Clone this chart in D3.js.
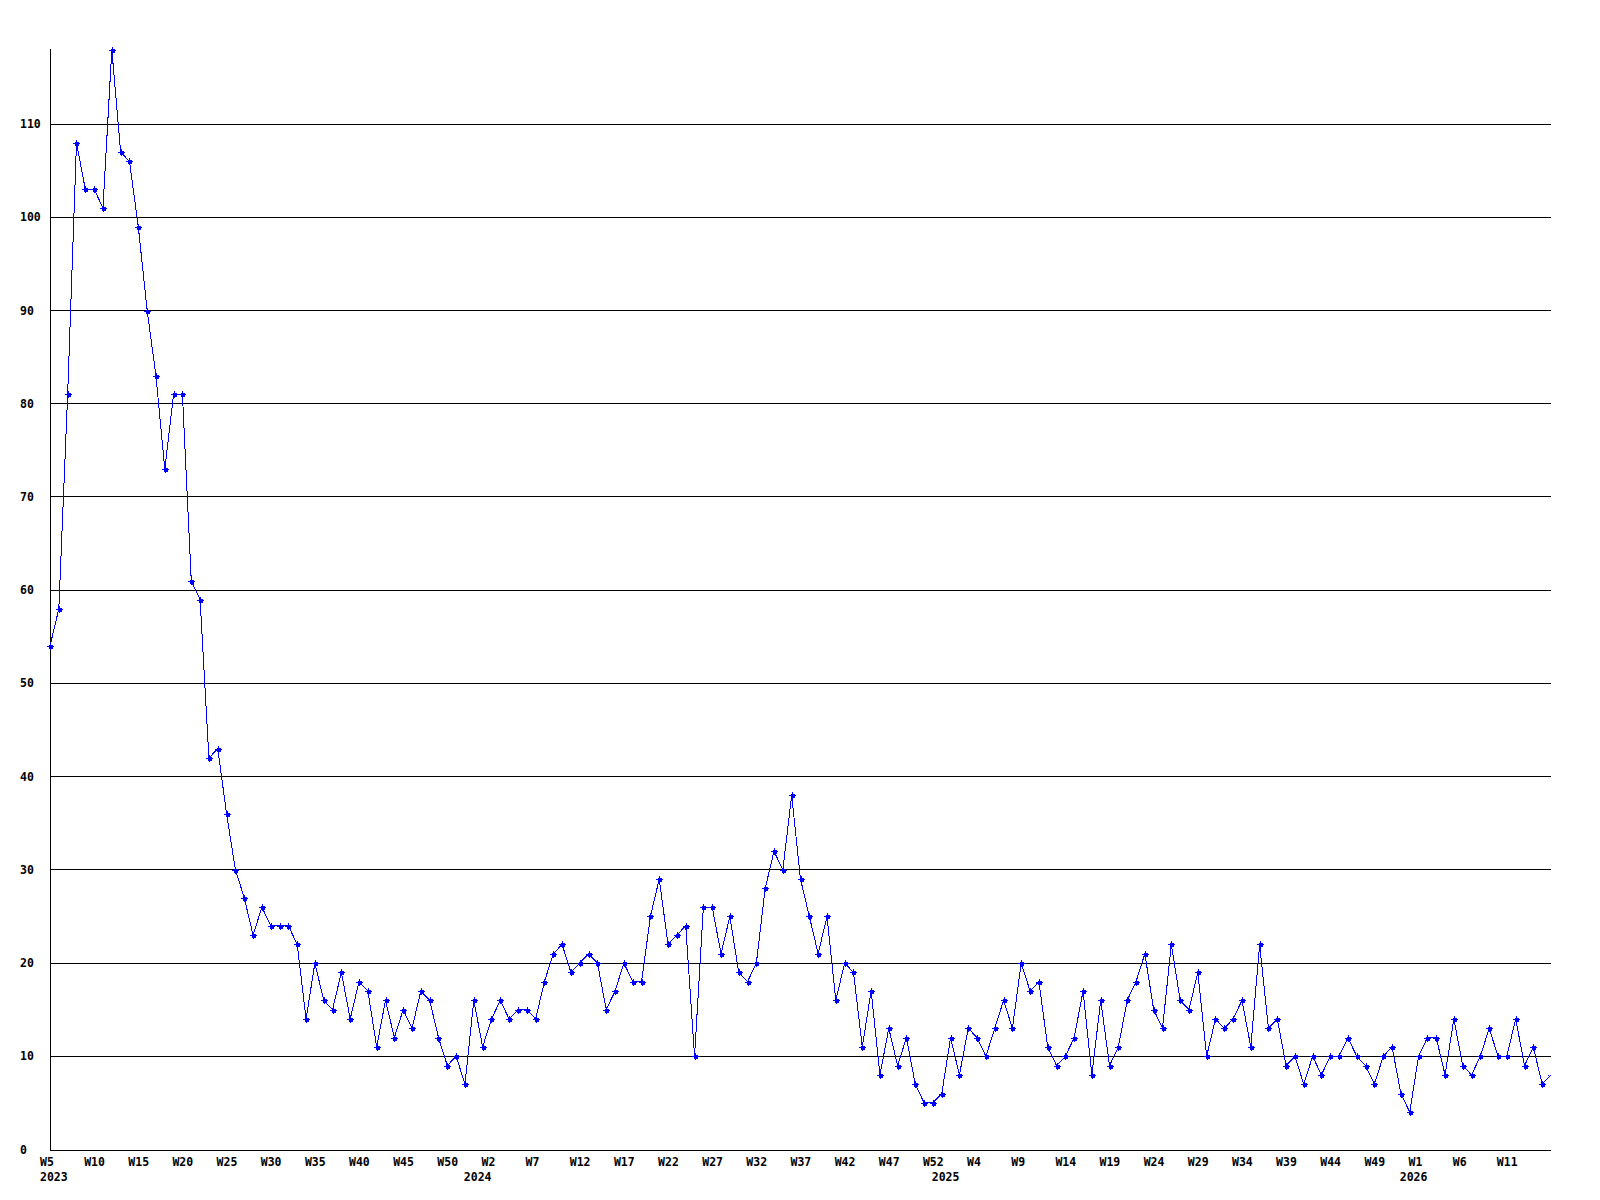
<!DOCTYPE html>
<html>
<head>
<meta charset="utf-8">
<script src="https://cdn.jsdelivr.net/npm/d3@7"></script>
<style>
  body { margin: 0; background: #fff; }
  text { font-family: "DejaVu Sans Mono", monospace; font-weight: bold; font-size: 11.5px; fill: #000; }
</style>
</head>
<body>
<svg id="chart" width="1600" height="1200"></svg>
<script>
// weekly counts, W5 2023 .. W15 2026
let counts = [
    54, 58, 81, 108, 103, 103, 101, 118, 107, 106, 99, 90, 83, 73, 81, 81, 61, 59,
    42, 43, 36,
    30, 27, 23, 26, 24, 24, 24, 22, 14, 20, 16, 15, 19, 14, 18, 17, 11, 16, 12, 15, 13, 17, 16, 12,
    9, 10, 7, 16, 11, 14, 16, 14, 15, 15, 14, 18, 21, 22, 19, 20, 21, 20, 15, 17, 20, 18,
    18, 25, 29, 22, 23, 24, 10, 26, 26, 21, 25, 19, 18, 20, 28, 32, 30, 38, 29, 25, 21, 25, 16,
    20, 19, 11, 17, 8, 13, 9, 12, 7, 5, 5, 6, 12, 8, 13, 12, 10, 13, 16, 13, 20, 17, 18,
    11, 9, 10, 12, 17, 8, 16, 9, 11, 16, 18, 21, 15, 13, 22, 16, 15, 19, 10, 14, 13, 14,
    16, 11, 22, 13, 14, 9, 10, 7, 10, 8, 10, 10, 12, 10, 9, 7, 10, 11,
    6, 4, 10, 12, 12, 8, 14, 9, 8, 10, 13, 10, 10, 14, 9, 11, 7, 8
];

// one label every 5th week
let weekLabels = ["W5", "W10", "W15", "W20", "W25", "W30", "W35", "W40", "W45", "W50",
    "W2", "W7", "W12", "W17", "W22", "W27", "W32", "W37", "W42", "W47", "W52",
    "W4", "W9", "W14", "W19", "W24", "W29", "W34", "W39", "W44", "W49",
    "W1", "W6", "W11"];

// year label and the week index where that year starts
let years = ["2023", "2024", "2025", "2026"];
let yearStart = [0, 48, 101, 154];

let yTicks = [0, 10, 20, 30, 40, 50, 60, 70, 80, 90, 100, 110];

let plotLeft = 50, plotRight = 1551, plotTop = 49.5, plotBottom = 1149.5;

let svg = d3.select('#chart');

let x = d3.scaleLinear()
    .domain([0, counts.length - 1])
    .range([plotLeft, plotRight]);

let y = d3.scaleLinear()
    .domain([0, d3.max(counts)])
    .range([plotBottom, plotTop]);

let px = (v) => Math.round(v) + 0.5;

svg.append('rect')
    .attr('width', 1600).attr('height', 1200)
    .attr('fill', '#fff');

// grid
svg.append('g')
    .selectAll('line')
    .data(yTicks.filter((d) => d > 0))
    .enter().append('line')
    .attr('x1', plotLeft).attr('x2', plotRight)
    .attr('y1', (d) => px(y(d) - 0.5)).attr('y2', (d) => px(y(d) - 0.5))
    .attr('stroke', '#000')
    .attr('shape-rendering', 'crispEdges');

// axes
svg.append('line')
    .attr('x1', px(plotLeft)).attr('x2', px(plotLeft))
    .attr('y1', plotTop - 1).attr('y2', px(plotBottom))
    .attr('stroke', '#000').attr('shape-rendering', 'crispEdges');
svg.append('line')
    .attr('x1', plotLeft).attr('x2', plotRight)
    .attr('y1', px(plotBottom)).attr('y2', px(plotBottom))
    .attr('stroke', '#000').attr('shape-rendering', 'crispEdges');

// y labels
svg.append('g')
    .selectAll('text')
    .data(yTicks)
    .enter().append('text')
    .attr('x', 20)
    .attr('y', (d) => y(d) + 4)
    .text((d) => d);

// week labels
svg.append('g')
    .selectAll('text')
    .data(weekLabels)
    .enter().append('text')
    .attr('x', (d, i) => x(i * 5) - 10)
    .attr('y', 1166)
    .text((d) => d);

// year labels
svg.append('g')
    .selectAll('text')
    .data(years)
    .enter().append('text')
    .attr('x', (d, i) => x(yearStart[i]) - 10)
    .attr('y', 1181)
    .text((d) => d);

// clip so the marker on the right edge is cut off
svg.append('clipPath').attr('id', 'plotclip')
    .append('rect')
    .attr('x', 0).attr('y', 0)
    .attr('width', plotRight - 2).attr('height', 1200);

let line = d3.line()
    .x((d, i) => x(i))
    .y((d) => y(d));

svg.append('path')
    .datum(counts)
    .attr('d', line)
    .attr('fill', 'none')
    .attr('stroke', '#0000ff')
    .attr('stroke-width', 1)
    .attr('shape-rendering', 'crispEdges');

// small "+" markers with a filled centre
let marker = 'M-3,0H4M0.5,-3.5V3.5M-1,-1h3v3h-3z';
svg.append('g')
    .attr('clip-path', 'url(#plotclip)')
    .selectAll('path')
    .data(counts)
    .enter().append('path')
    .attr('transform', (d, i) => 'translate(' + Math.round(x(i)) + ',' + (Math.round(y(d)) + 0.5) + ')')
    .attr('d', marker)
    .attr('fill', '#0000ff')
    .attr('stroke', '#0000ff')
    .attr('stroke-width', 1)
    .attr('shape-rendering', 'crispEdges');
</script>
</body>
</html>
